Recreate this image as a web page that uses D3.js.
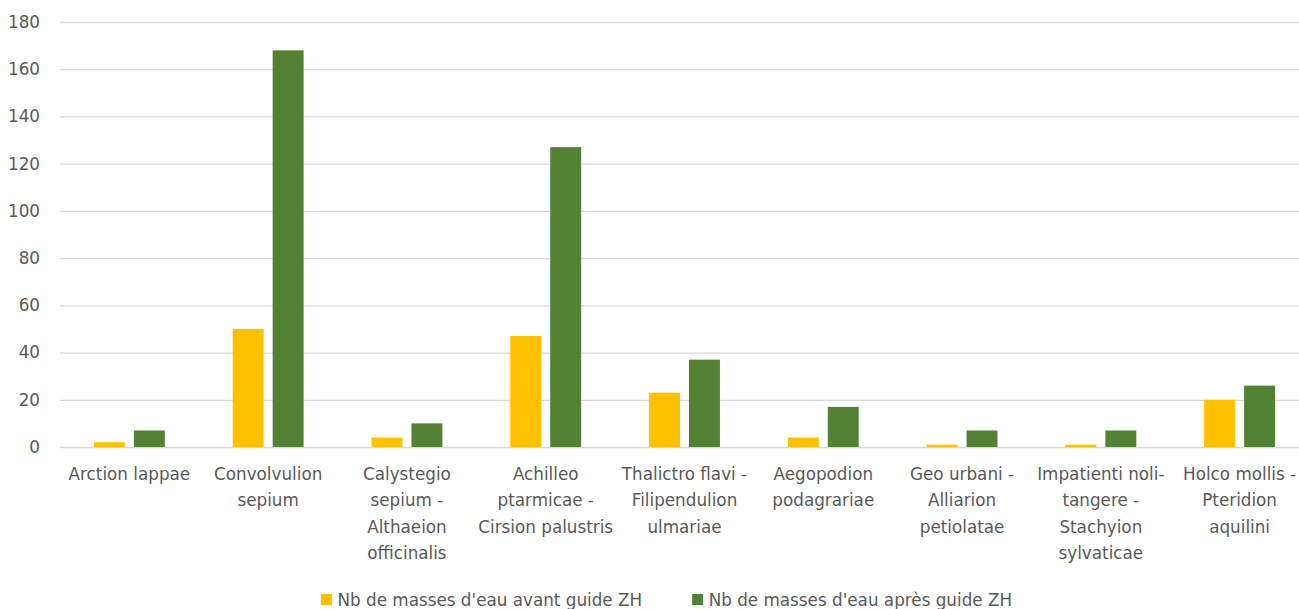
<!DOCTYPE html>
<html>
<head>
<meta charset="utf-8">
<title>Masses d'eau avant / après guide ZH</title>
<script src="https://d3js.org/d3.v7.min.js"></script>
<style>
  body { margin: 0; background: #fff; }
  text { font-family: "DejaVu Sans", sans-serif; fill: #595959; }
</style>
</head>
<body>
<div id="chart"></div>
<script>
// Data
const categories = ["Arction lappae", "Convolvulion sepium", "Calystegio sepium - Althaeion officinalis",
  "Achilleo ptarmicae - Cirsion palustris", "Thalictro flavi - Filipendulion ulmariae",
  "Aegopodion podagrariae", "Geo urbani - Alliarion petiolatae",
  "Impatienti noli-tangere - Stachyion sylvaticae", "Holco mollis - Pteridion aquilini"]
const tickLines = [
  ["Arction lappae"],
  ["Convolvulion", "sepium"],
  ["Calystegio", "sepium -", "Althaeion", "officinalis"],
  ["Achilleo", "ptarmicae -", "Cirsion palustris"],
  ["Thalictro flavi -", "Filipendulion", "ulmariae"],
  ["Aegopodion", "podagrariae"],
  ["Geo urbani -", "Alliarion", "petiolatae"],
  ["Impatienti noli-", "tangere -", "Stachyion", "sylvaticae"],
  ["Holco mollis -", "Pteridion", "aquilini"]
]
const seriesNames = ["Nb de masses d'eau avant guide ZH", "Nb de masses d'eau après guide ZH"]
const avant = [2, 50, 4, 47, 23, 4, 1, 1, 20]
const apres = [7, 168, 10, 127, 37, 17, 7, 7, 26]
const colors = ["#FFC000", "#548235"]
const yTicks = [0, 20, 40, 60, 80, 100, 120, 140, 160, 180]

const w = 1299
const h = 609

const svg = d3.select("#chart").append("svg")
  .attr("width", w)
  .attr("height", h)

// Scales
const x0 = d3.scaleBand()
  .domain(categories)
  .range([60, 1309])
  .padding(0)

const x1 = d3.scaleBand()
  .domain(seriesNames)
  .range([0, x0.bandwidth()])
  .paddingInner(0.225)
  .paddingOuter(0.85)

const y = d3.scaleLinear()
  .domain([0, 180])
  .range([447, 22])

// Grid + y labels
const yAxis = d3.axisLeft(y)
  .tickValues(yTicks)
  .tickSize(-(1309 - 60))
  .tickPadding(20)

const gy = svg.append("g")
  .attr("transform", "translate(60,0)")
  .call(yAxis)
gy.select(".domain").remove()
gy.selectAll(".tick line").attr("stroke", "#D9D9D9").attr("stroke-width", 1.3)
gy.selectAll(".tick text")
  .attr("font-size", "16.8px")
  .style("font-family", "DejaVu Sans")
  .attr("fill", "#595959")

// Bars
const rows = categories.map((c, i) => ({ cat: c, vals: [avant[i], apres[i]] }))

svg.append("g").selectAll("g")
  .data(rows)
  .join("g")
  .attr("transform", d => `translate(${x0(d.cat)},0)`)
  .selectAll("rect")
  .data(d => d.vals.map((v, j) => ({ key: seriesNames[j], v, j })))
  .join("rect")
  .attr("x", d => x1(d.key))
  .attr("y", d => y(d.v))
  .attr("width", x1.bandwidth())
  .attr("height", d => y(0) - y(d.v))
  .attr("fill", d => colors[d.j])

// x labels
const xl = svg.append("g").selectAll("text")
  .data(categories)
  .join("text")
  .attr("x", d => x0(d) + x0.bandwidth() / 2)
  .attr("y", 480)
  .attr("text-anchor", "middle")
  .attr("font-size", "16.8px")

xl.selectAll("tspan")
  .data((d, i) => tickLines[i])
  .join("tspan")
  .attr("x", function () { return this.parentNode.getAttribute("x") })
  .attr("dy", (d, i) => i === 0 ? 0 : 26.3)
  .text(d => d)

// Legend
const legend = svg.append("g")
let lx = 321
seriesNames.forEach((name, i) => {
  legend.append("rect")
    .attr("x", lx)
    .attr("y", 594)
    .attr("width", 11)
    .attr("height", 11)
    .attr("fill", colors[i])
  const t = legend.append("text")
    .attr("x", lx + 16.5)
    .attr("y", 606)
    .attr("font-size", "16.8px")
    .text(name)
  lx = lx + 16.5 + t.node().getComputedTextLength() + 50
})
</script>
</body>
</html>
